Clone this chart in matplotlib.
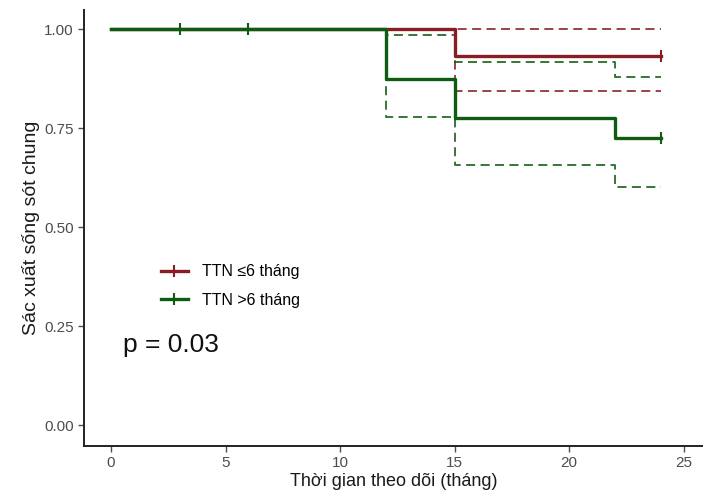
import matplotlib
matplotlib.use("Agg")
import matplotlib.pyplot as plt
from matplotlib.lines import Line2D

plt.rcParams['font.family'] = ['Liberation Sans', 'DejaVu Sans']

# Group 1: TTN <=6 thang
g1_times = [0, 15, 24]
g1_surv = [1.0, 0.933, 0.933]
g1_upper = [1.0, 1.0, 1.0]
g1_lower = [1.0, 0.843, 0.843]
g1_censor_t = [24]
g1_censor_s = [0.933]

# Group 2: TTN >6 thang
g2_times = [0, 12, 15, 22, 24]
g2_surv = [1.0, 0.875, 0.775, 0.725, 0.725]
g2_upper = [1.0, 0.985, 0.917, 0.879, 0.879]
g2_lower = [1.0, 0.778, 0.657, 0.601, 0.601]
g2_censor_t = [3, 6, 24]
g2_censor_s = [1.0, 1.0, 0.725]

labels = ["TTN \u22646 tháng", "TTN >6 tháng"]
colors = ["#8a1c24", "#0e5c10"]
p_text = "p = 0.03"
xticks = [0, 5, 10, 15, 20, 25]
yticks = [0.0, 0.25, 0.5, 0.75, 1.0]

fig = plt.figure(figsize=(7.03, 4.96), dpi=100)
ax = fig.add_axes([0.1195, 0.1008, 0.8805, 0.879])

groups = [
    (g1_times, g1_surv, g1_upper, g1_lower, g1_censor_t, g1_censor_s),
    (g2_times, g2_surv, g2_upper, g2_lower, g2_censor_t, g2_censor_s),
]
for (t, s, up, lo, ct, cs), col in zip(groups, colors):
    ax.step(t, up, where='post', color=col, lw=1.3, dashes=(5, 3), alpha=0.9, zorder=2)
    ax.step(t, lo, where='post', color=col, lw=1.3, dashes=(5, 3), alpha=0.9, zorder=2)
for (t, s, up, lo, ct, cs), col in zip(groups, colors):
    ax.step(t, s, where='post', color=col, lw=2.4, zorder=3)
    ax.plot(ct, cs, linestyle='none', marker='|', markersize=9, mew=1.5, color=col, zorder=4)

ax.set_xlim(-1.18, 25.85)
ax.set_ylim(-0.053, 1.048)
ax.set_xticks(xticks)
ax.set_yticks(yticks)
ax.set_yticklabels([f"{v:.2f}" for v in yticks])
ax.tick_params(axis='both', labelsize=11, colors='#4d4d4d', length=4, width=1.0, labelcolor='#4d4d4d')
for side in ['top', 'right']:
    ax.spines[side].set_visible(False)
for side in ['left', 'bottom']:
    ax.spines[side].set_linewidth(1.4)
    ax.spines[side].set_color('#222222')

ax.set_xlabel("Thời gian theo dõi (tháng)", fontsize=13, color='#1a1a1a', labelpad=2)
ax.set_ylabel("Sác xuất sống sót chung", fontsize=14, color='#1a1a1a', labelpad=3)

handles = [Line2D([0], [0], color=c, lw=2.4, marker='|', markersize=9, mew=1.5) for c in colors]
leg = ax.legend(handles, labels, loc='center left', bbox_to_anchor=(0.101, 0.367),
                frameon=False, fontsize=11.5, handlelength=1.7, handletextpad=0.85,
                labelspacing=0.85)

ax.text(0.52, 0.184, p_text, fontsize=19, color='#111111', va='baseline', ha='left')

fig.savefig("out.png", dpi=100)
